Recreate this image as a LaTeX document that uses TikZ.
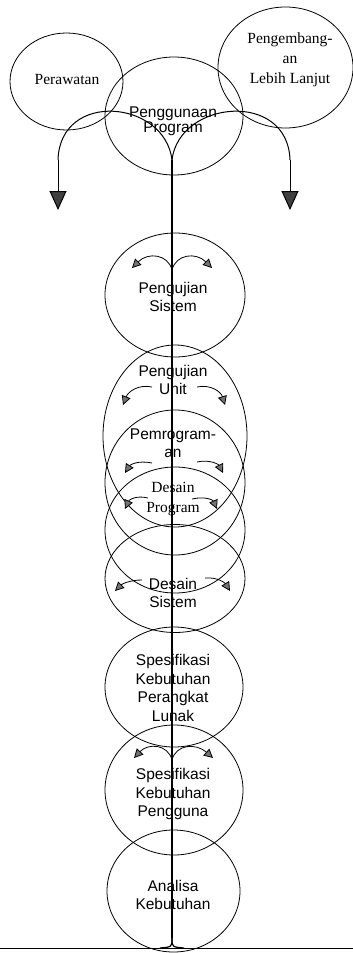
\documentclass[tikz,border=0pt]{standalone}
\usepackage{fontspec}
\setmainfont{Liberation Serif}
\setsansfont{Liberation Sans}
\usetikzlibrary{arrows.meta}
\tikzset{
  ring/.style={draw=black, line width=0.8pt},
  sanstext/.style={align=center, inner sep=0pt, font=\sffamily\fontsize{15.5}{18.5}\selectfont},
  seriftext/.style={align=center, inner sep=0pt, font=\rmfamily\fontsize{15.5}{20}\selectfont},
  smallarrow/.style={line width=0.8pt, -{Triangle[width=9pt,length=9pt,fill=black!55]}},
  bigarrow/.style={line width=1pt, -{Triangle[width=17pt,length=19pt,fill=black!75]}},
  mainline/.style={line width=1.2pt}
}
\begin{document}
\begin{tikzpicture}[x=1pt,y=-1pt]
\useasboundingbox (0,0) rectangle (353,953);
% circles
\draw[ring] (66.5,81.5) ellipse [x radius=56.5, y radius=48.5];
\draw[ring] (285.5,67.5) ellipse [x radius=67.5, y radius=60.5];
\draw[ring] (174,116) ellipse [x radius=69, y radius=59];
\draw[ring] (175,295) ellipse [x radius=70, y radius=62];
\draw[ring] (175,436) ellipse [x radius=72, y radius=91];
\draw[ring] (175,482.5) ellipse [x radius=70, y radius=72.5];
\draw[ring] (175,530) ellipse [x radius=70, y radius=63];
\draw[ring] (175,578.5) ellipse [x radius=70, y radius=54];
\draw[ring] (174,687) ellipse [x radius=69, y radius=60];
\draw[ring] (174,790) ellipse [x radius=69, y radius=65];
\draw[ring] (173.5,891) ellipse [x radius=66.5, y radius=61];
% texts
\node[seriftext] (perawatan) at (67,80) {Perawatan};
\node[seriftext] (pengembangan) at (290,60) {Pengembang-\\an\\Lebih Lanjut};
\node[sanstext, font=\sffamily\fontsize{15.5}{13}\selectfont] (penggunaan) at (173,121) {Penggunaan\\Program};
\node[sanstext] (ujisistem) at (173,297) {Pengujian\\Sistem};
\node[sanstext] (ujiunit) at (173,380) {Pengujian\\Unit};
\node[sanstext] (pemrograman) at (173,443) {Pemrogram-\\an};
\node[seriftext] (desainprog) at (173,499) {Desain\\Program};
\node[sanstext] (desainsis) at (173,593) {Desain\\Sistem};
\node[sanstext] (skpl) at (173,688) {Spesifikasi\\Kebutuhan\\Perangkat\\Lunak};
\node[sanstext] (skp) at (173,794) {Spesifikasi\\Kebutuhan\\Pengguna};
\node[sanstext] (analisa) at (173,895) {Analisa\\Kebutuhan};
% coordinates
\coordinate (topsplit) at (172,160);
\coordinate (bottomjoin) at (172,938);
\coordinate (leftbend) at (58,160);
\coordinate (rightbend) at (290,160);
\coordinate (lefttip) at (58,210);
\coordinate (righttip) at (290,210);
\coordinate (groundL) at (0,948);
\coordinate (groundR) at (353,948);
% main line
\draw[mainline] (topsplit) -- (bottomjoin);
\draw[mainline] (bottomjoin) .. controls (172,947) .. (160,948);
\draw[mainline] (bottomjoin) .. controls (172,947) .. (184,948);
\draw[line width=1pt] (groundL) -- (groundR);
% top arrows
\draw[line width=1pt] (topsplit) .. controls (165,100) and (60,90) .. (leftbend);
\draw[bigarrow] (leftbend) -- (lefttip);
\draw[line width=1pt] (topsplit) .. controls (179,100) and (288,90) .. (rightbend);
\draw[bigarrow] (rightbend) -- (righttip);
% small arrows
\coordinate (s1) at (172,270);
\coordinate (s1l) at (132,268);
\coordinate (s1r) at (212,268);
\draw[smallarrow] (s1) .. controls (168,254) and (148,252) .. (s1l);
\draw[smallarrow] (s1) .. controls (176,254) and (196,252) .. (s1r);
\coordinate (u1) at (152,387); \coordinate (u1e) at (123,405);
\coordinate (u2) at (197,387); \coordinate (u2e) at (225,405);
\draw[smallarrow] (u1) .. controls (138,384) and (128,392) .. (u1e);
\draw[smallarrow] (u2) .. controls (211,384) and (221,392) .. (u2e);
\coordinate (p1) at (152,463); \coordinate (p1e) at (125,473);
\coordinate (p2) at (197,462); \coordinate (p2e) at (223,473);
\draw[smallarrow] (p1) .. controls (138,460) and (130,465) .. (p1e);
\draw[smallarrow] (p2) .. controls (211,459) and (219,465) .. (p2e);
\coordinate (d1) at (148,498); \coordinate (d1e) at (125,509);
\coordinate (d2) at (192,499); \coordinate (d2e) at (217,509);
\draw[smallarrow] (d1) .. controls (136,495) and (129,500) .. (d1e);
\draw[smallarrow] (d2) .. controls (205,496) and (213,500) .. (d2e);
\coordinate (e1) at (142,580); \coordinate (e1e) at (115,591);
\coordinate (e2) at (205,578); \coordinate (e2e) at (230,591);
\draw[smallarrow] (e1) .. controls (130,580) and (122,584) .. (e1e);
\draw[smallarrow] (e2) .. controls (218,577) and (225,583) .. (e2e);
\coordinate (k1) at (172,760);
\coordinate (k1l) at (134,758);
\coordinate (k1r) at (213,758);
\draw[smallarrow] (k1) .. controls (168,744) and (148,743) .. (k1l);
\draw[smallarrow] (k1) .. controls (176,744) and (196,743) .. (k1r);
\end{tikzpicture}
\end{document}
